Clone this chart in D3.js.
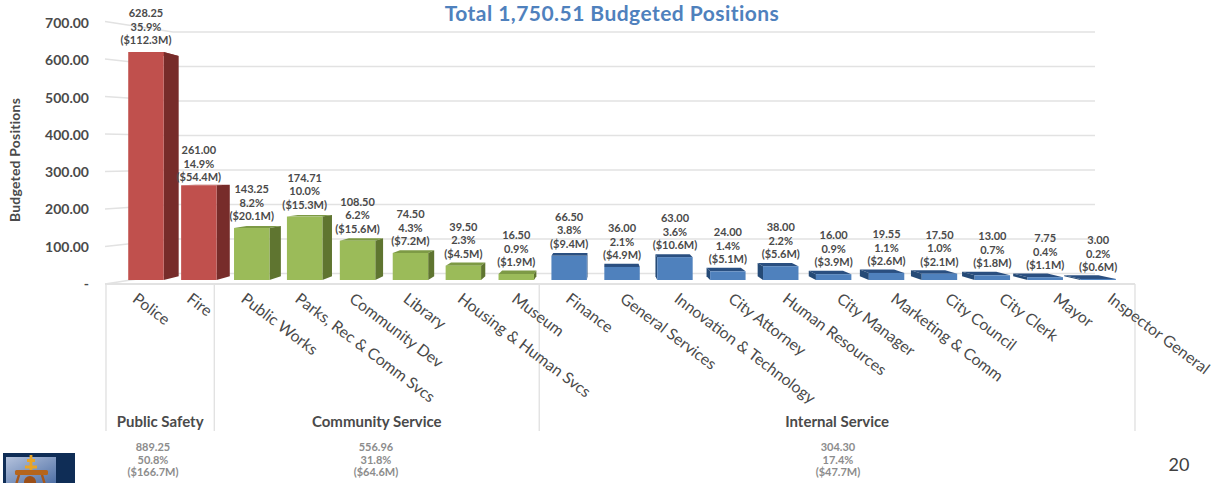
<!DOCTYPE html>
<html>
<head>
<meta charset="utf-8">
<script src="https://cdn.jsdelivr.net/npm/d3@7"></script>
<style>
html,body{margin:0;padding:0;background:#fff;}
svg{display:block;}
text{font-family:"Lato","Open Sans",sans-serif;}
</style>
</head>
<body>
<svg id="chart" width="1215" height="483"></svg>
<script>
// Budgeted positions by department
const departments = ["Police","Fire","Public Works","Parks, Rec & Comm Svcs","Community Dev","Library","Housing & Human Svcs","Museum","Finance","General Services","Innovation & Technology","City Attorney","Human Resources","City Manager","Marketing & Comm","City Council","City Clerk","Mayor","Inspector General"];
const positions = [628.25,261.00,143.25,174.71,108.50,74.50,39.50,16.50,66.50,36.00,63.00,24.00,38.00,16.00,19.55,17.50,13.00,7.75,3.00];
const shares = ["35.9%","14.9%","8.2%","10.0%","6.2%","4.3%","2.3%","0.9%","3.8%","2.1%","3.6%","1.4%","2.2%","0.9%","1.1%","1.0%","0.7%","0.4%","0.2%"];
const budgets = ["($112.3M)","($54.4M)","($20.1M)","($15.3M)","($15.6M)","($7.2M)","($4.5M)","($1.9M)","($9.4M)","($4.9M)","($10.6M)","($5.1M)","($5.6M)","($3.9M)","($2.6M)","($2.1M)","($1.8M)","($1.1M)","($0.6M)"];
const departmentGroups = ["safety","safety","community","community","community","community","community","community","internal","internal","internal","internal","internal","internal","internal","internal","internal","internal","internal"];

const groupKeys = ["safety","community","internal"];
const groupNames = ["Public Safety","Community Service","Internal Service"];
const groupPositions = ["889.25","556.96","304.30"];
const groupShares = ["50.8%","31.8%","17.4%"];
const groupBudgets = ["($166.7M)","($64.6M)","($47.7M)"];
const groupFront = ["#c0504d","#9bbb59","#4f81bd"];
const groupSide = ["#772c2a","#5f7530","#254a76"];
const groupTop = ["#a8423f","#7d9a45","#2a4f80"];

const yTicks = [0,100,200,300,400,500,600,700];
const tickText = d => d === 0 ? "-" : d3.format(".2f")(d);

const svg = d3.select("#chart");
const gridColor = "#e2e2e2";
const textDark = "#4a4a4a";
const textGrey = "#8c8c8c";

// The chart is a 3-D column chart: a floor-level axis at the front, bars in the
// middle plane, and a back wall that recedes toward a vanishing point.
const axisX = d3.scaleBand().domain(departments).range([106,1135]);
const barX = d3.scaleBand().domain(departments).range([119.5,1124.6]).paddingInner(0.33).paddingOuter(0.165);
const barY = d3.scaleLinear().domain([0,700]).range([280,26]);
const wallY = d3.scaleLinear().domain([0,700]).range([273.5,32]);
const frontY = d3.scaleLinear().domain([0,700]).range([284,21.5]);
const tickY = d3.scaleLinear().domain([0,700]).range([284,23]);

const vanishX = 605, vanishY = 170, depth = 0.034;
const recede = ([x,y]) => [x + depth*(vanishX-x), y + depth*(vanishY-y)];

// Back wall and left wall grid
const wallLeft = 173, wallRight = 1095;
const grid = svg.append("g").attr("fill","none").attr("stroke",gridColor).attr("stroke-width",1.4);
grid.selectAll("path.wall").data(yTicks).join("path")
  .attr("class","wall")
  .attr("d",d => `M105,${frontY(d)}L${wallLeft},${wallY(d)}L${wallRight},${wallY(d)}`);
grid.append("path").attr("d",`M105,${frontY(0)}H1135`).attr("stroke-width",1.8);

// Group dividers below the axis
const groupIndices = groupKeys.map(k => departmentGroups.map((g,i)=>g===k?i:-1).filter(i=>i>=0));
const edges = [axisX(departments[0])].concat(groupIndices.map(ix => axisX(departments[ix[ix.length-1]]) + axisX.bandwidth()));
svg.append("g").selectAll("line").data(edges).join("line")
  .attr("x1",d=>d).attr("x2",d=>d).attr("y1",frontY(0)).attr("y2",431)
  .attr("stroke",gridColor).attr("stroke-width",1.4);

// Bars, painted from the outside toward the vanishing point
const order = d3.range(departments.length).sort((a,b)=>Math.abs(barX(departments[b])-vanishX)-Math.abs(barX(departments[a])-vanishX));
const poly = pts => "M"+pts.map(p=>p.join(",")).join("L")+"Z";
const bars = svg.append("g").selectAll("g").data(order).join("g");
bars.each(function(i){
  const g = d3.select(this);
  const c = groupKeys.indexOf(departmentGroups[i]);
  const x0 = barX(departments[i]), x1 = x0 + barX.bandwidth();
  const yT = barY(positions[i]), yB = barY(0);
  const tl=[x0,yT], tr=[x1,yT], bl=[x0,yB], br=[x1,yB];
  g.append("path").attr("d",poly([tl,tr,recede(tr),recede(tl)])).attr("fill",groupTop[c]);
  if (x1 < vanishX) g.append("path").attr("d",poly([tr,recede(tr),recede(br),br])).attr("fill",groupSide[c]);
  if (x0 > vanishX) g.append("path").attr("d",poly([tl,recede(tl),recede(bl),bl])).attr("fill",groupSide[c]);
  g.append("rect").attr("x",x0).attr("y",yT).attr("width",x1-x0).attr("height",yB-yT).attr("fill",groupFront[c]);
});

// Value labels above each bar; the Fire label sits closer to its bar
const labelLine = 13.4, labelLift = 8, fireLabelDrop = 4;
const labels = svg.append("g").attr("text-anchor","middle").attr("font-size",11).attr("font-weight",700).attr("fill",textDark);
departments.forEach((d,i)=>{
  const cx = barX(d) + barX.bandwidth()/2;
  const base = barY(positions[i]) - labelLift + (d === "Fire" ? fireLabelDrop : 0);
  [positions[i].toFixed(2),shares[i],budgets[i]].forEach((s,j)=>{
    labels.append("text").attr("x",cx).attr("y",base-(2-j)*labelLine).text(s);
  });
});

// Value axis labels
svg.append("g").attr("text-anchor","end").attr("font-size",14).attr("font-weight",700).attr("fill",textDark)
  .selectAll("text").data(yTicks).join("text")
  .attr("x",89).attr("y",d=>tickY(d)+5).text(tickText);
svg.append("text").attr("transform","translate(20,160) rotate(-90)").attr("text-anchor","middle")
  .attr("font-size",14).attr("font-weight",700).attr("fill",textDark).attr("letter-spacing",0.2).text("Budgeted Positions");

// Department labels, slanted downward
svg.append("g").attr("font-size",15.8).attr("font-weight",400).attr("fill",textDark)
  .selectAll("text").data(departments).join("text")
  .attr("transform",d=>`translate(${axisX(d)+axisX.bandwidth()/2-1.5},${301}) rotate(37)`)
  .text(d=>d);

// Group names and totals
const totalCenters = [153,376,838];
groupKeys.forEach((k,i)=>{
  const cx = (edges[i]+edges[i+1])/2;
  svg.append("text").attr("x",cx).attr("y",427).attr("text-anchor","middle").attr("font-size",15).attr("font-weight",700).attr("fill",textDark).text(groupNames[i]);
  [groupPositions[i],groupShares[i],groupBudgets[i]].forEach((s,j)=>{
    svg.append("text").attr("x",totalCenters[i]).attr("y",451+j*12.6).attr("text-anchor","middle").attr("font-size",11).attr("font-weight",700).attr("fill",textGrey).text(s);
  });
});

// Title and page number
svg.append("text").attr("x",612).attr("y",21).attr("text-anchor","middle").attr("font-size",21).attr("letter-spacing",0.45).attr("font-weight",700).attr("fill","#4f81bd").text("Total 1,750.51 Budgeted Positions");
svg.append("text").attr("x",1179).attr("y",471).attr("text-anchor","middle").attr("font-size",18).attr("fill","#404040").text("20");

// City seal in the corner
const defs = svg.append("defs");
const sky = defs.append("linearGradient").attr("id","sealSky").attr("x1",0).attr("y1",0).attr("x2",1).attr("y2",1);
sky.append("stop").attr("offset",0).attr("stop-color","#b4c2dc");
sky.append("stop").attr("offset",1).attr("stop-color","#4f70a6");
const seal = svg.append("g");
seal.append("rect").attr("x",3).attr("y",453).attr("width",72).attr("height",30).attr("fill","#0f2d56");
seal.append("rect").attr("x",6).attr("y",457).attr("width",50).attr("height",26).attr("fill","url(#sealSky)");
seal.append("circle").attr("cx",30).attr("cy",482).attr("r",6).attr("fill","#9c4f18");
seal.append("path").attr("d","M19,475L16.5,483M42,475L44.5,483").attr("stroke","#a8581a").attr("stroke-width",2.5).attr("fill","none");
seal.append("rect").attr("x",15).attr("y",470).attr("width",33).attr("height",5).attr("rx",1.5).attr("fill","#b5651d");
seal.append("path").attr("d","M31,455V470M27,460.5H35M25,467H37").attr("stroke","#e9a526").attr("stroke-width",2.8).attr("fill","none");
</script>
</body>
</html>
